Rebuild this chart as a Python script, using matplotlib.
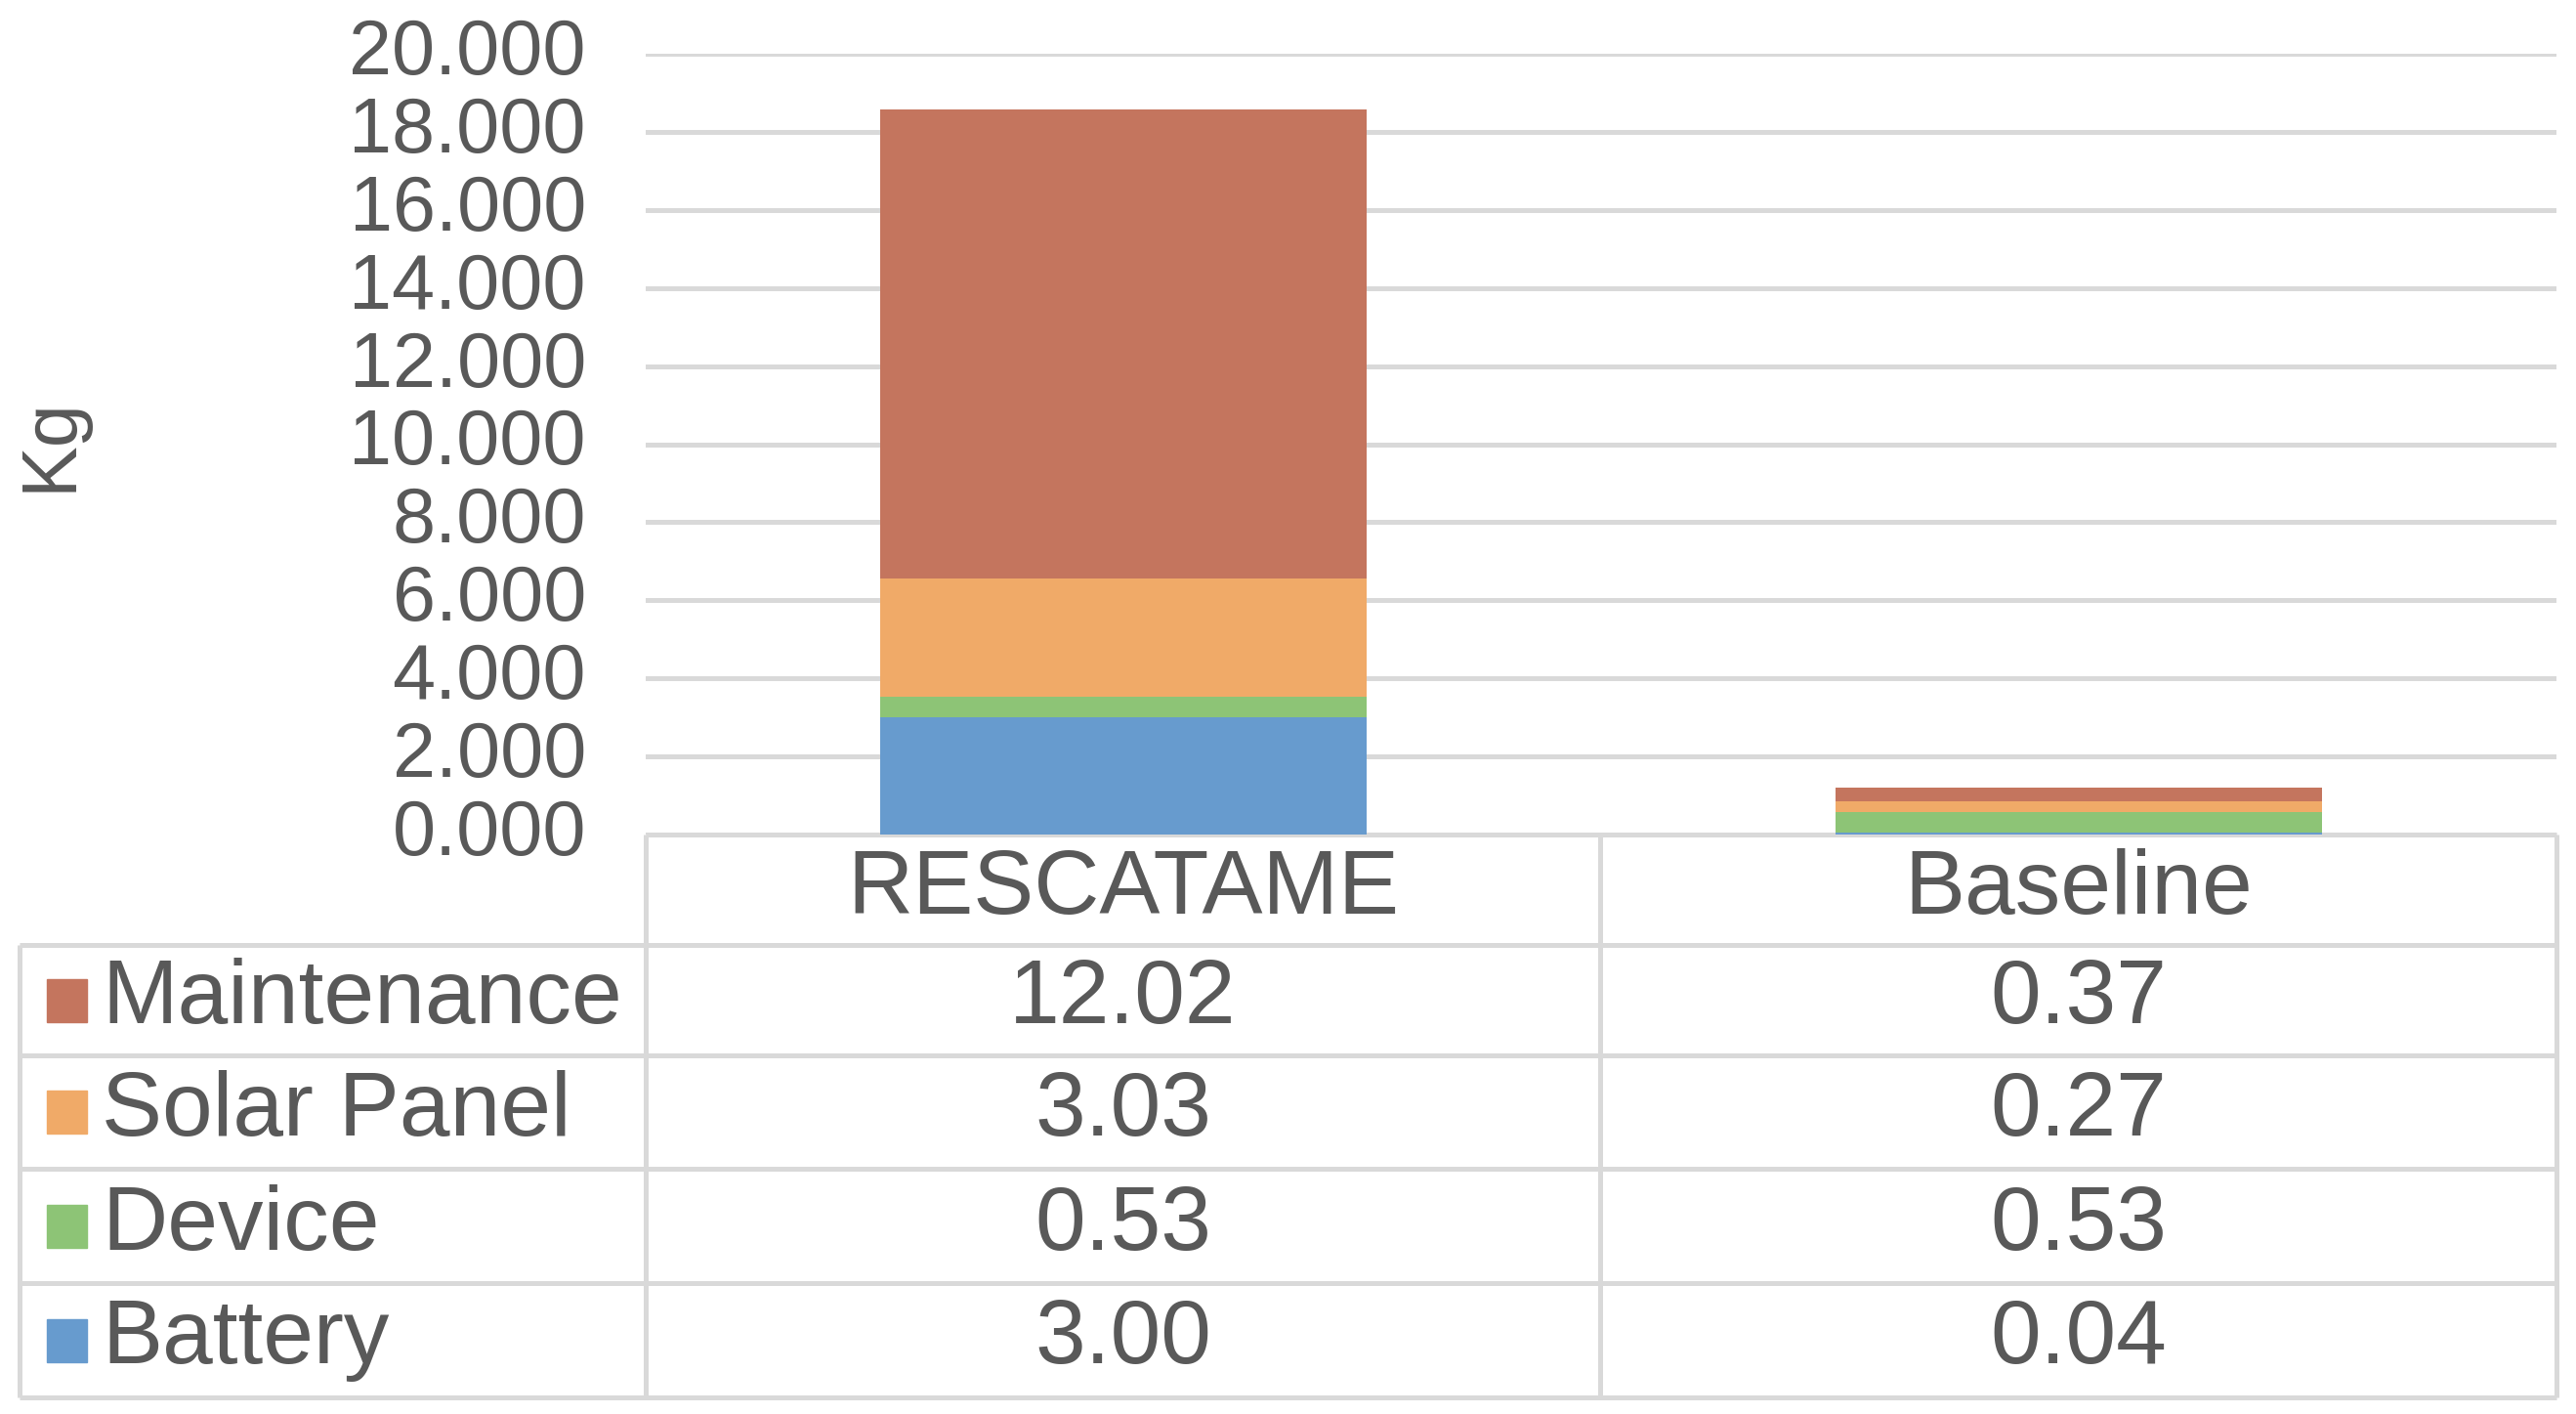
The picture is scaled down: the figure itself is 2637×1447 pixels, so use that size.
import matplotlib
matplotlib.use("Agg")
import matplotlib.pyplot as plt
from matplotlib.ticker import MultipleLocator, FormatStrFormatter
from matplotlib.transforms import ScaledTranslation

# data
scenarios = ["RESCATAME", "Baseline"]
components = ["Battery", "Device", "Solar Panel", "Maintenance"]  # bottom -> top
battery = [3.00, 0.04]
device = [0.53, 0.53]
solar_panel = [3.03, 0.27]
maintenance = [12.02, 0.37]
series = [battery, device, solar_panel, maintenance]
colors = ["#679BCE", "#8DC476", "#F0AA68", "#C4755E"]

TEXT = "#595959"
GRID = "#D9D9D9"
plt.rcParams["font.family"] = ["Liberation Sans", "DejaVu Sans"]

W, H = 2637, 1447
fig = plt.figure(figsize=(W / 100, H / 100), dpi=100)

# pixel layout of the chart + table
x_left, x_mid, x_right = 661, 1638, 2617
x_tab = 20
y_zero, y_top = 854, 55
row_edges = [967, 1080, 1196, 1313, 1430]

ax = fig.add_axes([x_left / W, 1 - y_zero / H, (x_right - x_left) / W, (y_zero - y_top) / H])
xpos = [0.5, 1.5]
bottom = [0.0, 0.0]
for vals, col, name in zip(series, colors, components):
    ax.bar(xpos, vals, width=0.51, bottom=bottom, color=col, label=name, zorder=3)
    bottom = [b + v for b, v in zip(bottom, vals)]

ax.set_xlim(0, 2)
ax.set_ylim(0, 20)
ax.yaxis.set_major_locator(MultipleLocator(2))
ax.yaxis.set_major_formatter(FormatStrFormatter("%.3f"))
ax.grid(axis="y", color=GRID, linewidth=3.6, zorder=0)
ax.tick_params(axis="y", length=0, pad=44, labelsize=57, labelcolor=TEXT)
ax.tick_params(axis="x", length=0, labelbottom=False)
for s in ax.spines.values():
    s.set_visible(False)
shift = ScaledTranslation(0, 0.08, fig.dpi_scale_trans)
for lab in ax.get_yticklabels():
    lab.set_transform(lab.get_transform() + shift)

fig.text(52 / W, 1 - 455 / H, "Kg", rotation=90, ha="center", va="center",
         fontsize=57, color=TEXT)

# data table below the chart
tab = fig.add_axes([0, 0, 1, 1], zorder=-1)
tab.set_xlim(0, W)
tab.set_ylim(H, 0)
tab.axis("off")
lw = 3.6
tab.hlines(y_zero, x_left, x_right, color=GRID, linewidth=lw)
tab.hlines(row_edges, x_tab, x_right, color=GRID, linewidth=lw)
tab.vlines([x_left, x_mid, x_right], y_zero, row_edges[-1], color=GRID, linewidth=lw)
tab.vlines(x_tab, row_edges[0], row_edges[-1], color=GRID, linewidth=lw)

col_centers = [(x_left + x_mid) / 2, (x_mid + x_right) / 2]
hdr_y = (y_zero + row_edges[0]) / 2
for cx, name in zip(col_centers, scenarios):
    tab.text(cx, hdr_y, name, ha="center", va="center", fontsize=67, color=TEXT)

rows = list(zip(components, series, colors))[::-1]
for i, (name, vals, col) in enumerate(rows):
    cy = (row_edges[i] + row_edges[i + 1]) / 2
    tab.add_patch(plt.Rectangle((48, cy - 22), 41, 44, color=col))
    tab.text(104, cy, name, ha="left", va="center", fontsize=67, color=TEXT)
    for cx, v in zip(col_centers, vals):
        tab.text(cx, cy, f"{v:.2f}", ha="center", va="center", fontsize=67, color=TEXT)

fig.savefig("out.png", dpi=100, facecolor="white")
